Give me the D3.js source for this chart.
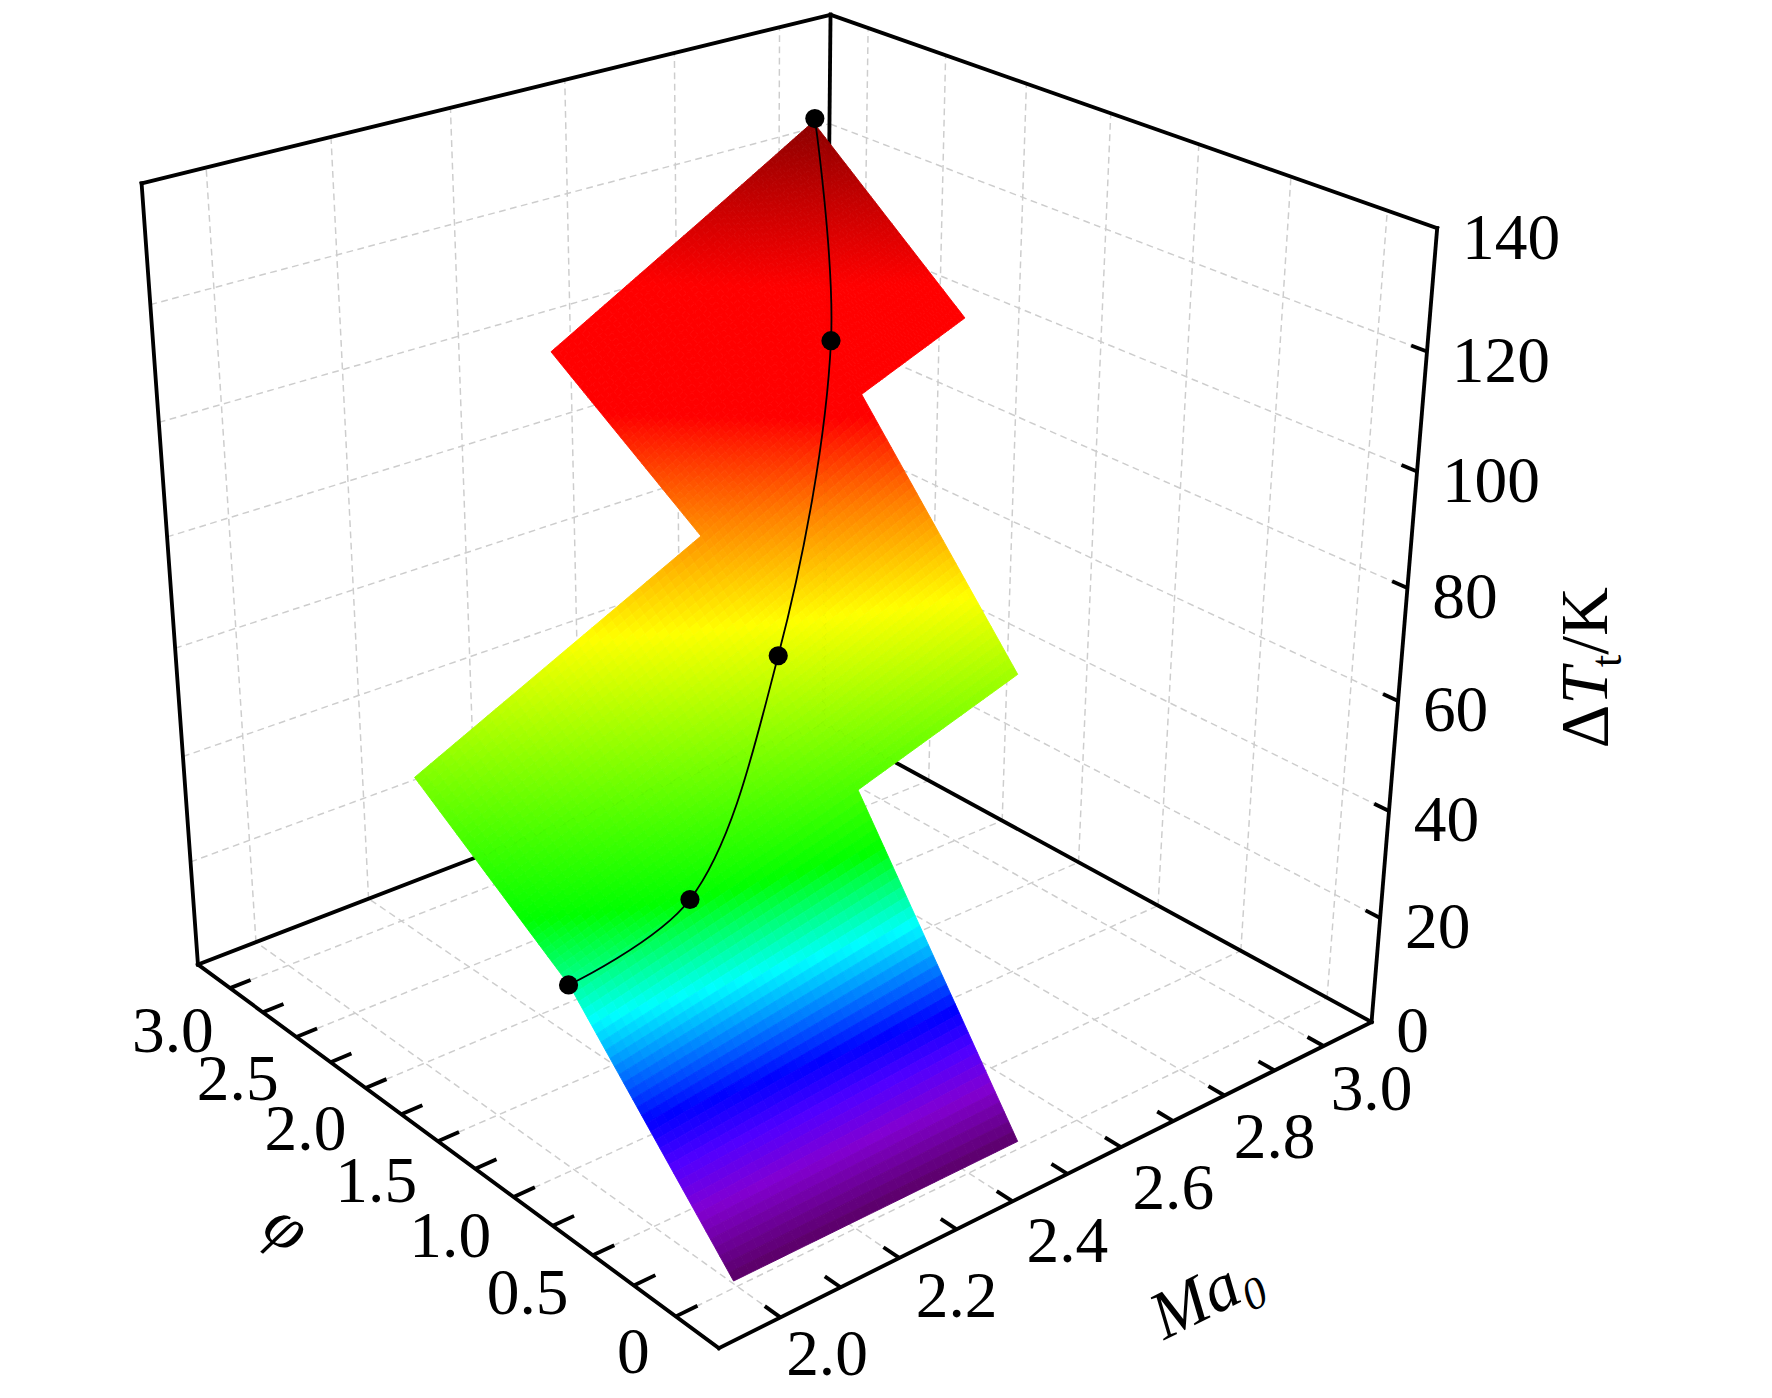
<!DOCTYPE html>
<html><head><meta charset="utf-8">
<script src="https://cdn.jsdelivr.net/npm/d3@7"></script>
<style>body{margin:0;background:#fff}</style></head>
<body><div id="graph"></div>
<script>
// surface nodes: rows follow phiGrid, columns follow maGrid (null = no surface)
var maGrid = [1.9, 2.396, 2.691, 2.888];
var phiGrid = [-0.229, 0.75, 1.737, 2.731];
var dTGrid = [
    [0.5, 0.7, null, null],
    [33.4, 47.3, 56.9, null],
    [53.0, 77.8, 93.7, 101.6],
    [null, 97.7, 114.5, 125.9]
];

// the black line with dots
var lineMa = [1.9, 2.1, 2.4, 2.7, 2.89];
var linePhi = [0.757, 0.745, 1.26, 1.965, 2.726];
var lineDT = [33.4, 40.0, 63.2, 100.2, 126.5];

// axes
var maTicks = [1.9, 2.0, 2.1, 2.2, 2.3, 2.4, 2.5, 2.6, 2.7, 2.8, 2.9];
var maLabels = [2.0, 2.2, 2.4, 2.6, 2.8, 3.0];
var maGridLines = [1.9, 2.1, 2.3, 2.5, 2.7, 2.9];
var phiTicks = [-0.25, 0, 0.25, 0.5, 0.75, 1, 1.25, 1.5, 1.75, 2, 2.25, 2.5, 2.75];
var phiLabels = [0, 0.5, 1.0, 1.5, 2.0, 2.5, 3.0];
var phiGridLines = [-0.25, 0.25, 0.75, 1.25, 1.75, 2.25, 2.75];
var dTTicks = [20, 40, 60, 80, 100, 120];
var dTLabels = [0, 20, 40, 60, 80, 100, 120, 140];

// rainbow palette, stops as fraction of the dT range
var paletteStops = [0, 0.06, 0.10, 0.14, 0.23, 0.31, 0.53, 0.63, 0.72, 0.84, 1];
var paletteColors = ["#5a0064", "#8200d2", "#5000ff", "#0000ff", "#00ffff", "#00ff00",
    "#ffff00", "#ff8000", "#ff0000", "#ff0000", "#8b0000"];

var W = 1571, H = 1239.5;
var svg = d3.select("#graph").append("svg")
    .attr("width", 1772).attr("height", 1398)
    .attr("viewBox", "0 0 " + W + " " + H)
    .attr("font-family", "'Liberation Serif', 'Times New Roman', serif");

// data -> unit cube
var x = d3.scaleLinear().domain([1.8, 3.0]).range([0, 1]);
var y = d3.scaleLinear().domain([-0.5, 3.0]).range([0, 1]);
var z = d3.scaleLinear().domain([0, 140]).range([0, 1]);

// unit cube -> screen, perspective camera matched to the box corners
var cam = [
    [756.213, -431.871, -72.196, 637.329],
    [-156.809, -193.889, -828.748, 1195.251],
    [0.146, 0.171, -0.109, 1]
];
function project(ma, phi, dt) {
    var v = [x(ma), y(phi), z(dt), 1];
    var w = d3.sum(v, (d, i) => d * cam[2][i]);
    return [d3.sum(v, (d, i) => d * cam[0][i]) / w, d3.sum(v, (d, i) => d * cam[1][i]) / w];
}
function seg(g, a, b) {
    var p = project.apply(null, a), q = project.apply(null, b);
    return g.append("line").attr("x1", p[0]).attr("y1", p[1]).attr("x2", q[0]).attr("y2", q[1]);
}

var maMin = 1.8, maMax = 3.0, phiMin = -0.5, phiMax = 3.0, zMin = 0, zMax = 140;

// grid on the two walls and the floor
var grid = svg.append("g").attr("stroke", "#cdcdcd").attr("stroke-width", 1.3)
    .attr("stroke-dasharray", "6,4").attr("fill", "none");
maGridLines.forEach(function (m) {
    seg(grid, [m, phiMax, zMin], [m, phiMax, zMax]);
    seg(grid, [m, phiMin, zMin], [m, phiMax, zMin]);
});
phiGridLines.forEach(function (f) {
    seg(grid, [maMax, f, zMin], [maMax, f, zMax]);
    seg(grid, [maMin, f, zMin], [maMax, f, zMin]);
});
dTTicks.forEach(function (t) {
    seg(grid, [maMin, phiMax, t], [maMax, phiMax, t]);
    seg(grid, [maMax, phiMin, t], [maMax, phiMax, t]);
});

// back frame
var frame = svg.append("g").attr("stroke", "#000").attr("stroke-width", 3.4).attr("stroke-linecap", "square");
seg(frame, [maMin, phiMax, zMin], [maMin, phiMax, zMax]);
seg(frame, [maMax, phiMax, zMin], [maMax, phiMax, zMax]);
seg(frame, [maMin, phiMax, zMin], [maMax, phiMax, zMin]);
seg(frame, [maMax, phiMin, zMin], [maMax, phiMax, zMin]);
seg(frame, [maMin, phiMax, zMax], [maMax, phiMax, zMax]);
seg(frame, [maMax, phiMin, zMax], [maMax, phiMax, zMax]);

// surface: each grid cell split into small bilinear patches, coloured by dT
var zExt = d3.extent(dTGrid.flat().filter(d => d != null));
var color = d3.scaleLinear()
    .domain(paletteStops.map(f => zExt[0] + f * (zExt[1] - zExt[0])))
    .range(paletteColors).clamp(true);

var patches = [], n = 36;
for (var i = 0; i < phiGrid.length - 1; i++) {
    for (var j = 0; j < maGrid.length - 1; j++) {
        var c = [dTGrid[i][j], dTGrid[i][j + 1], dTGrid[i + 1][j], dTGrid[i + 1][j + 1]];
        if (c.some(d => d == null)) continue;
        (function (i, j, c) {
            var at = function (s, t) {
                return [maGrid[j] + s * (maGrid[j + 1] - maGrid[j]),
                    phiGrid[i] + t * (phiGrid[i + 1] - phiGrid[i]),
                    (1 - s) * (1 - t) * c[0] + s * (1 - t) * c[1] + (1 - s) * t * c[2] + s * t * c[3]];
            };
            for (var a = 0; a < n; a++) for (var b = 0; b < n; b++) {
                var s0 = a / n, s1 = (a + 1) / n, t0 = b / n, t1 = (b + 1) / n;
                var mid = at((s0 + s1) / 2, (t0 + t1) / 2);
                patches.push({
                    pts: [at(s0, t0), at(s1, t0), at(s1, t1), at(s0, t1)].map(p => project(p[0], p[1], p[2])),
                    dt: mid[2], depth: x(mid[0]) + y(mid[1])
                });
            }
        })(i, j, c);
    }
}
patches.sort((p, q) => q.depth - p.depth);
svg.append("g").selectAll("path").data(patches).enter().append("path")
    .attr("d", d => "M" + d.pts.join("L") + "Z")
    .attr("fill", d => color(d.dt))
    .attr("stroke", d => color(d.dt))
    .attr("stroke-width", 0.8)
    .attr("stroke-linejoin", "round");

// line with dots
var linePts = lineMa.map((m, i) => project(m, linePhi[i], lineDT[i]));
svg.append("path").attr("d", d3.line().curve(d3.curveCatmullRom.alpha(0.5))(linePts))
    .attr("fill", "none").attr("stroke", "#000").attr("stroke-width", 1.6);
svg.append("g").selectAll("circle").data(linePts).enter().append("circle")
    .attr("cx", d => d[0]).attr("cy", d => d[1]).attr("r", 8.5).attr("fill", "#000");

// front axes and ticks
var axes = svg.append("g").attr("stroke", "#000").attr("stroke-width", 3.4).attr("stroke-linecap", "square");
seg(axes, [maMin, phiMin, zMin], [maMax, phiMin, zMin]);
seg(axes, [maMin, phiMin, zMin], [maMin, phiMax, zMin]);
seg(axes, [maMax, phiMin, zMin], [maMax, phiMin, zMax]);
var ticks = svg.append("g").attr("stroke", "#000").attr("stroke-width", 3.4);
maTicks.forEach(m => seg(ticks, [m, phiMin, zMin], [m, phiMin + 0.09, zMin]));
phiTicks.forEach(f => seg(ticks, [maMin, f, zMin], [maMin + 0.035, f, zMin]));
dTTicks.forEach(t => seg(ticks, [maMax, phiMin, t], [maMax, phiMin + 0.08, t]));

// tick labels
var fs = 58;
var labels = svg.append("g").attr("font-size", fs).attr("fill", "#000");
maLabels.forEach(function (m) {
    var p = project(m, phiMin, zMin);
    labels.append("text").attr("x", p[0] - (m === 2.0 ? 12 : 0)).attr("y", p[1] + 78)
        .attr("text-anchor", "middle").text(d3.format(".1f")(m));
});
phiLabels.forEach(function (f) {
    var p = project(maMin, f, zMin);
    labels.append("text").attr("x", p[0] + 14).attr("y", p[1] + 78).attr("text-anchor", "end")
        .text(f === 0 ? "0" : d3.format(".1f")(f));
});
dTLabels.forEach(function (t) {
    var p = project(maMax, phiMin, t);
    labels.append("text").attr("x", p[0] + 22).attr("y", p[1] + 27).attr("text-anchor", "start").text(t);
});

// axis titles
var tz = svg.append("text").attr("transform", "translate(1425,592) rotate(-90)")
    .attr("text-anchor", "middle").attr("font-size", 60);
tz.append("tspan").text("\u0394");
tz.append("tspan").attr("font-style", "italic").text("T");
tz.append("tspan").attr("font-size", 40).attr("dy", 12).text("t");
tz.append("tspan").attr("dy", -12).text("/K");

var tm = svg.append("text").attr("transform", "translate(1068,1148) rotate(-26.5)")
    .attr("y", 20).attr("text-anchor", "middle").attr("font-size", 60);
tm.append("tspan").attr("font-style", "italic").text("Ma");
tm.append("tspan").attr("font-style", "italic").attr("font-size", 40).attr("dy", 12).text("0");

svg.append("text").attr("transform", "translate(255,1087) rotate(36)")
    .attr("y", 20).attr("text-anchor", "middle").attr("font-size", 60)
    .attr("font-style", "italic").text("\u03c6");
</script></body></html>
